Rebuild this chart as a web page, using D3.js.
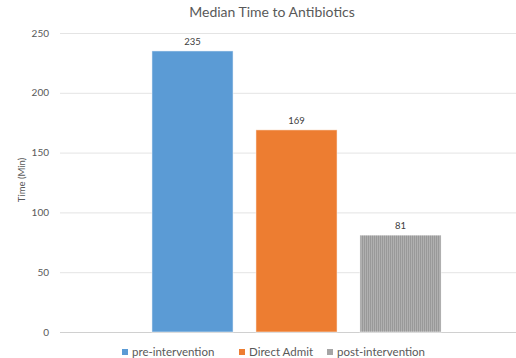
<!DOCTYPE html>
<html>
<head>
<meta charset="utf-8">
<script src="https://cdn.jsdelivr.net/npm/d3@7"></script>
<style>
  body { margin: 0; background: #fff; }
  svg { font-family: Lato, "Open Sans", sans-serif; }
</style>
</head>
<body>
<svg id="chart" width="516" height="358"></svg>
<script>
// chart data
const categories = [""];
const series = ["pre-intervention", "Direct Admit", "post-intervention"];
const values = [235, 169, 81];
const colors = ["#5b9bd5", "#ed7d31", "url(#stripes)"];
const legendColors = ["#5b9bd5", "#ed7d31", "#a5a5a5"];
const yTicks = [0, 50, 100, 150, 200, 250];

const svg = d3.select("#chart");
const margin = {left: 60, right: -17, top: 33, bottom: 26};
const W = 516, H = 358;

// striped fill for the grey bar
let pat = svg.append("defs").append("pattern")
  .attr("id", "stripes")
  .attr("width", 2).attr("height", 4)
  .attr("patternUnits", "userSpaceOnUse");
pat.append("rect").attr("width", 2).attr("height", 4).attr("fill", "#b2b2b2");
pat.append("rect").attr("width", 1).attr("height", 4).attr("fill", "#979797");

let y = d3.scaleLinear().domain([0, 250]).range([H - margin.bottom, margin.top]);
let x0 = d3.scaleBand().domain(categories)
  .range([margin.left, W - margin.right])
  .paddingOuter(0.318).paddingInner(0);
let x1 = d3.scaleBand().domain(series)
  .range([0, x0.bandwidth()])
  .paddingInner(0.22).paddingOuter(0);

// gridlines
svg.append("g")
  .selectAll("line").data(yTicks).enter().append("line")
    .attr("x1", margin.left).attr("x2", W)
    .attr("y1", d => y(d) + 0.5).attr("y2", d => y(d) + 0.5)
    .attr("stroke", d => d == 0 ? "#d0d0d0" : "#e4e4e4")
    .attr("stroke-width", 1);

// y axis labels
svg.append("g").selectAll("text").data(yTicks).enter().append("text")
  .attr("x", 49).attr("y", d => y(d) + 3.5)
  .attr("text-anchor", "end")
  .attr("font-size", "10px")
  .attr("fill", "#595959")
  .text(d => d);

// bars
let bars = svg.append("g").attr("transform", `translate(${x0(categories[0])},0)`);
bars.selectAll("rect").data(series).enter().append("rect")
  .attr("x", d => x1(d))
  .attr("width", x1.bandwidth())
  .attr("y", (d, i) => y(values[i]))
  .attr("height", (d, i) => y(0) - y(values[i]))
  .attr("fill", (d, i) => colors[i])
  .attr("stroke", "#fff").attr("stroke-opacity", 0.5).attr("stroke-width", 1);

// value labels
bars.selectAll("text").data(series).enter().append("text")
  .attr("x", d => x1(d) + x1.bandwidth() / 2)
  .attr("y", (d, i) => y(values[i]) - 6)
  .attr("text-anchor", "middle")
  .attr("font-size", "9.5px")
  .attr("fill", "#404040")
  .text((d, i) => values[i]);

// title
svg.append("text")
  .attr("x", 272).attr("y", 17)
  .attr("text-anchor", "middle")
  .attr("font-size", "14px")
  .attr("fill", "#595959")
  .text("Median Time to Antibiotics");

// y axis title
svg.append("text")
  .attr("transform", "translate(25,180) rotate(-90)")
  .attr("text-anchor", "middle")
  .attr("font-size", "9.5px")
  .attr("fill", "#595959")
  .text("Time (Min)");

// legend
let legendX = [122, 239, 327];
let legend = svg.append("g").selectAll("g").data(series).enter().append("g")
  .attr("transform", (d, i) => `translate(${legendX[i]},349)`);
legend.append("rect")
  .attr("width", 6).attr("height", 6)
  .attr("fill", (d, i) => legendColors[i]);
legend.append("text")
  .attr("x", 10).attr("y", 7)
  .attr("font-size", "11.5px")
  .attr("fill", "#595959")
  .text(d => d);
</script>
</body>
</html>
